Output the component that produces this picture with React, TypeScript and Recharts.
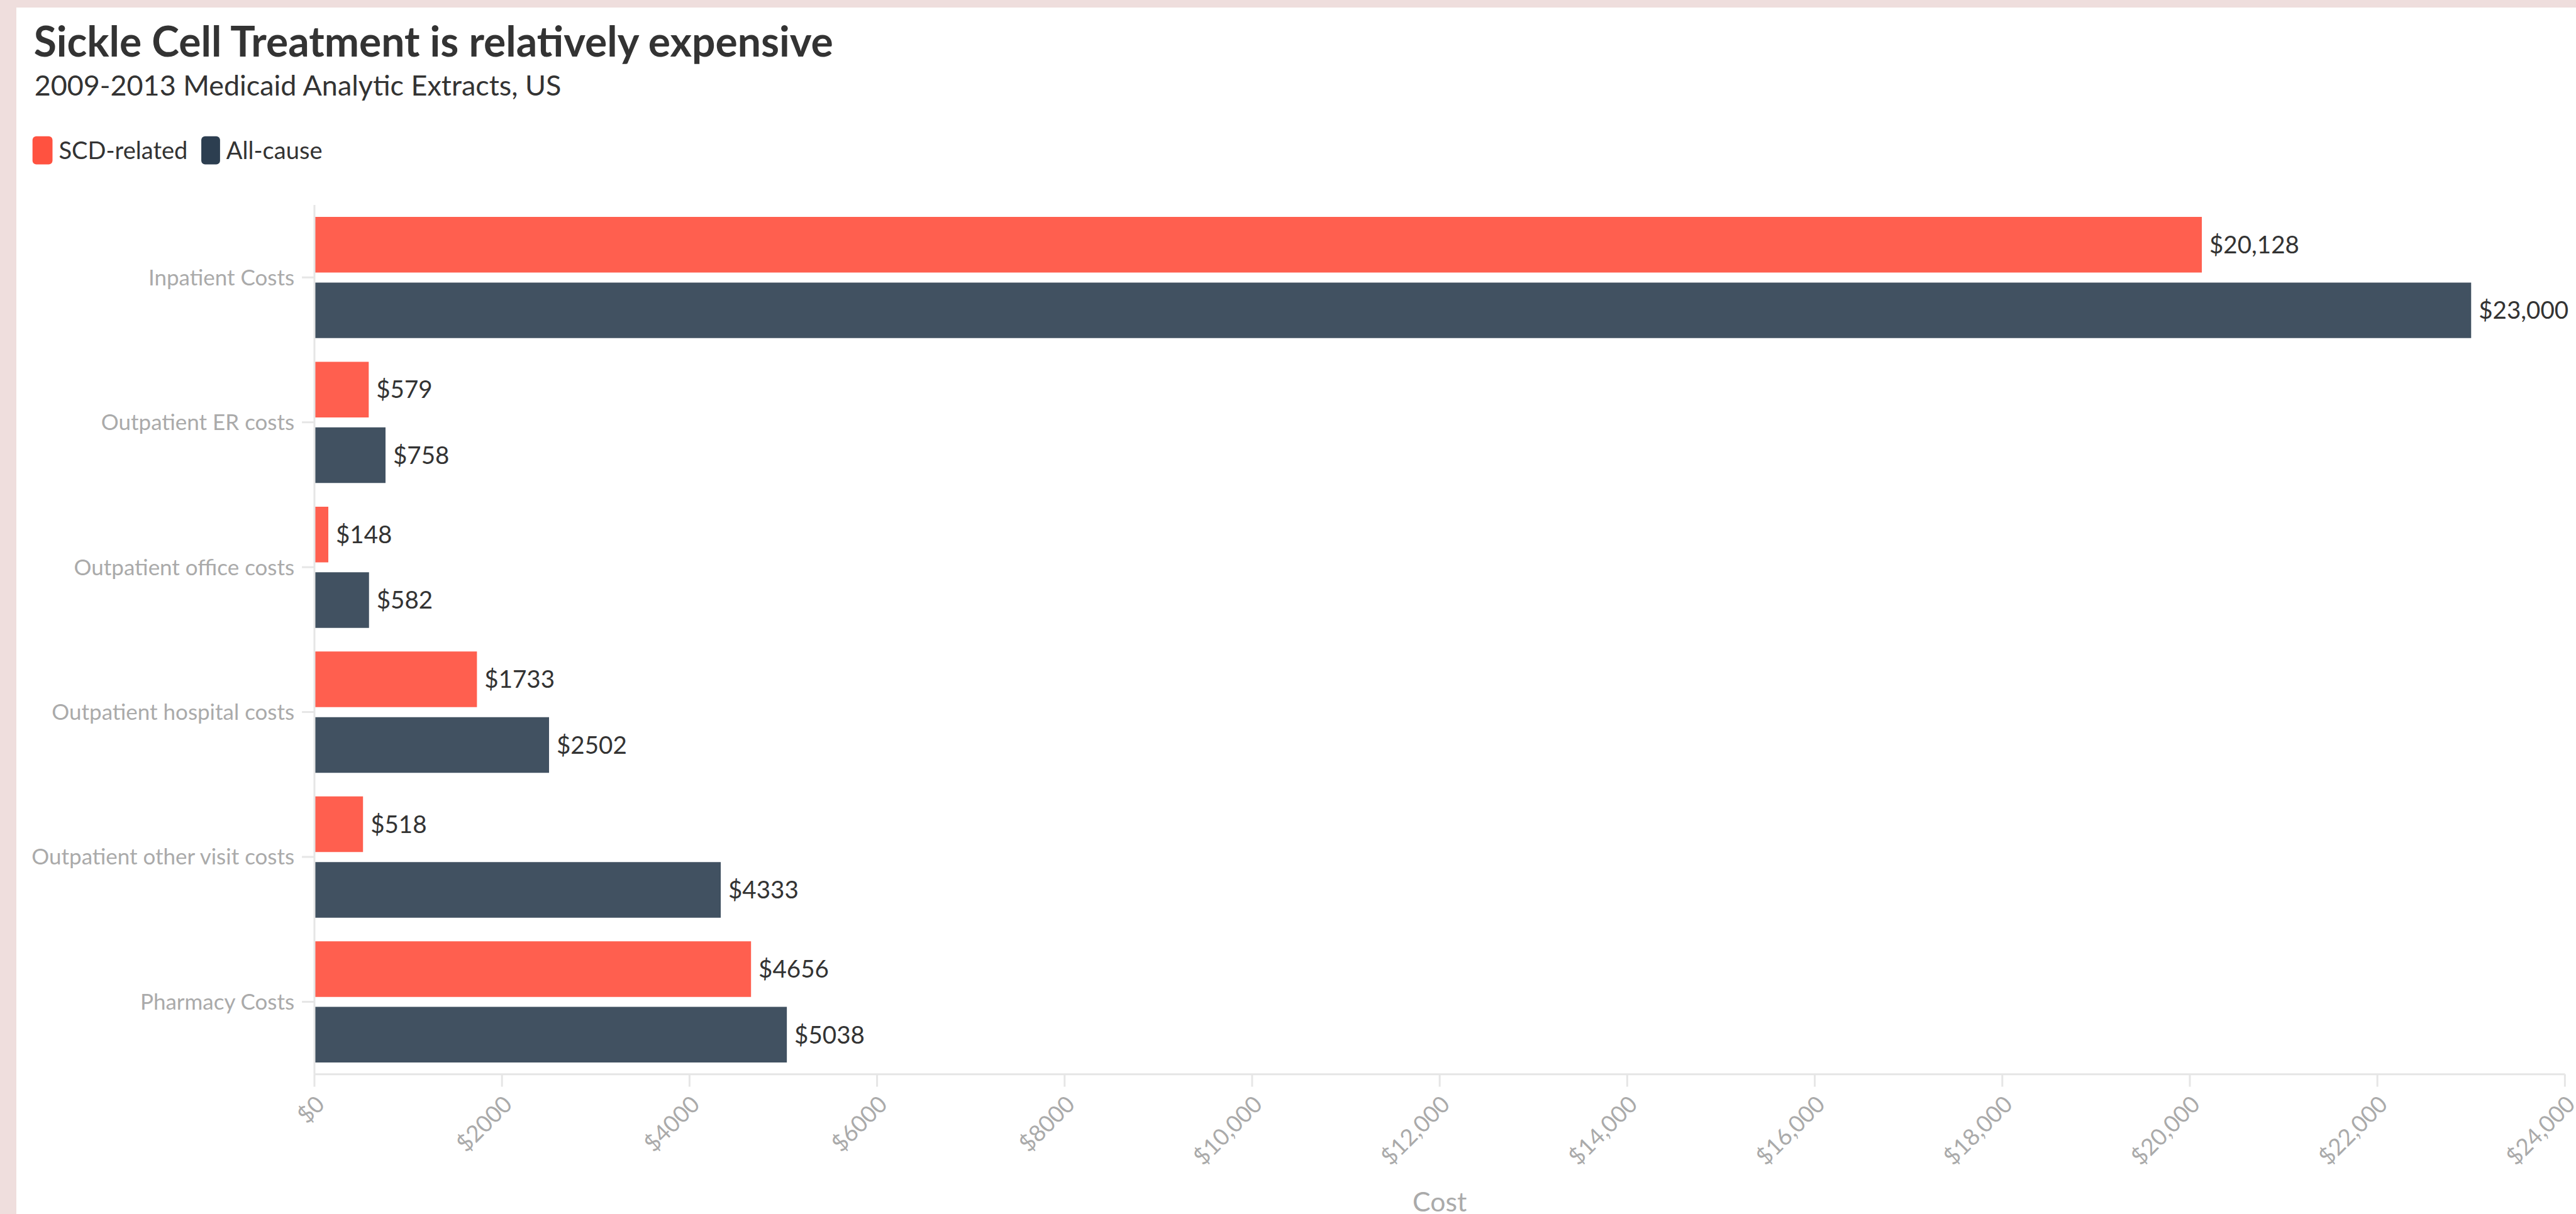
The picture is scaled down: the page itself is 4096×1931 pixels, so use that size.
import { BarChart, Bar, XAxis, YAxis, LabelList } from 'recharts';

const S = 0.994;

const categories = [
  'Inpatient Costs',
  'Outpatient ER costs',
  'Outpatient office costs',
  'Outpatient hospital costs',
  'Outpatient other visit costs',
  'Pharmacy Costs',
];
const scdRelated = [20128, 579, 148, 1733, 518, 4656];
const allCause = [23000, 758, 582, 2502, 4333, 5038];
const xTicks = [0, 2000, 4000, 6000, 8000, 10000, 12000, 14000, 16000, 18000, 20000, 22000, 24000];

const RED = '#ff5f4f';
const DARK = '#415161';
const GREY = '#aaaaaa';
const LINE = '#e6e6e6';
const FONT = 'Lato, "Open Sans", sans-serif';

// highcharts-ish money format: no separator under 10k
const money = (v: number) => (v >= 10000 ? '$' + v.toLocaleString('en-US') : '$' + v);

const rows = categories.map((name, i) => ({
  name,
  scd: scdRelated[i],
  all: allCause[i],
}));

const W = 4096;
const H = 1931;

export default function App() {
  return (
    <div
      style={{
        position: 'fixed',
        left: 0,
        top: 0,
        width: W,
        height: H,
        overflow: 'hidden',
        background: '#efdedd',
        fontFamily: FONT,
      }}
    >
      <div
        style={{
          position: 'absolute',
          left: 26 * S,
          top: 12 * S,
          right: 0,
          bottom: 0,
          background: '#ffffff',
        }}
      />
      <svg width={W} height={H} style={{ position: 'absolute', left: 0, top: 0 }}>
        <text x={54 * S} y={91 * S} fontSize={66.4 * S} fontWeight={700} fill="#333333" fontFamily={FONT}>
          Sickle Cell Treatment is relatively expensive
        </text>
        <text x={55 * S} y={153 * S} fontSize={45.2 * S} fill="#333333" fontFamily={FONT}>
          2009-2013 Medicaid Analytic Extracts, US
        </text>
        <rect x={52 * S} y={218 * S} width={32 * S} height={45 * S} rx={6 * S} fill="#ff5240" />
        <text x={94 * S} y={255 * S} fontSize={38.3 * S} fill="#333333" fontFamily={FONT}>
          SCD-related
        </text>
        <rect x={322 * S} y={218 * S} width={30 * S} height={45 * S} rx={6 * S} fill="#2c3e50" />
        <text x={362 * S} y={255 * S} fontSize={38.3 * S} fill="#333333" fontFamily={FONT}>
          All-cause
        </text>
      </svg>
      <div style={{ position: 'absolute', left: 0, top: 0 }}>
        <BarChart
          width={W}
          height={H}
          data={rows}
          layout="vertical"
          margin={{ top: 328 * S, right: W - 4103 * S, bottom: 0, left: 0 }}
          barSize={89 * S}
          barGap={16 * S}
        >
          <XAxis
            type="number"
            domain={[0, 24000]}
            ticks={xTicks}
            interval={0}
            tickFormatter={money}
            height={H - 1719 * S}
            axisLine={{ stroke: LINE, strokeWidth: 3 }}
            tickLine={{ stroke: LINE, strokeWidth: 3 }}
            tickSize={20 * S}
            tickMargin={12 * S}
            tick={{ angle: -45, textAnchor: 'end', fontSize: 37 * S, fill: GREY, fontFamily: FONT }}
            label={{
              value: 'Cost',
              position: 'insideBottom',
              offset: 4,
              fontSize: 43 * S,
              fill: GREY,
              fontFamily: FONT,
            }}
          />
          <YAxis
            type="category"
            dataKey="name"
            width={503 * S}
            axisLine={{ stroke: LINE, strokeWidth: 3 }}
            tickLine={{ stroke: LINE, strokeWidth: 3 }}
            tickSize={20 * S}
            tickMargin={12 * S}
            tick={{ fontSize: 35.2 * S, fill: GREY, fontFamily: FONT }}
          />
          <Bar dataKey="scd" name="SCD-related" fill={RED} isAnimationActive={false}>
            <LabelList
              dataKey="scd"
              position="right"
              offset={12 * S}
              formatter={(v: any) => money(Number(v))}
              style={{ fontSize: 38.8 * S, fill: '#333333', fontFamily: FONT }}
            />
          </Bar>
          <Bar dataKey="all" name="All-cause" fill={DARK} isAnimationActive={false}>
            <LabelList
              dataKey="all"
              position="right"
              offset={12 * S}
              formatter={(v: any) => money(Number(v))}
              style={{ fontSize: 38.8 * S, fill: '#333333', fontFamily: FONT }}
            />
          </Bar>
        </BarChart>
      </div>
    </div>
  );
}
